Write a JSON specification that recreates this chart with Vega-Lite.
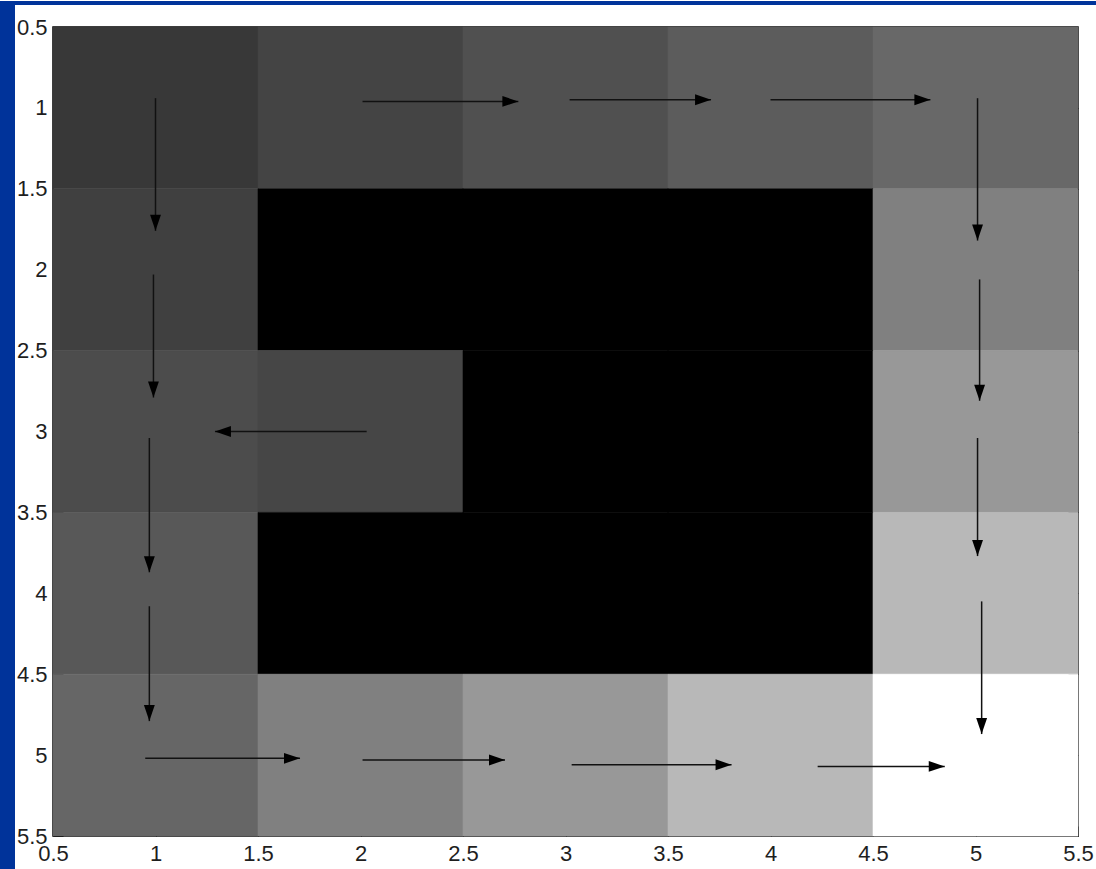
{
  "$schema": "https://vega.github.io/schema/vega-lite/v6.json",
  "background": "#ffffff",
  "padding": 0,
  "bounds": "flush",
  "spacing": 0,
  "config": {"concat": {"spacing": 0}},
  "datasets": {
    "cells": [
      {"xa": 0.5, "xb": 1.5, "ya": 0.5, "yb": 1.5, "v": 56},
      {"xa": 1.5, "xb": 2.5, "ya": 0.5, "yb": 1.5, "v": 68},
      {"xa": 2.5, "xb": 3.5, "ya": 0.5, "yb": 1.5, "v": 80},
      {"xa": 3.5, "xb": 4.5, "ya": 0.5, "yb": 1.5, "v": 92},
      {"xa": 4.5, "xb": 5.5, "ya": 0.5, "yb": 1.5, "v": 104},
      {"xa": 0.5, "xb": 1.5, "ya": 1.5, "yb": 2.5, "v": 64},
      {"xa": 1.5, "xb": 2.5, "ya": 1.5, "yb": 2.5, "v": 0},
      {"xa": 2.5, "xb": 3.5, "ya": 1.5, "yb": 2.5, "v": 0},
      {"xa": 3.5, "xb": 4.5, "ya": 1.5, "yb": 2.5, "v": 0},
      {"xa": 4.5, "xb": 5.5, "ya": 1.5, "yb": 2.5, "v": 128},
      {"xa": 0.5, "xb": 1.5, "ya": 2.5, "yb": 3.5, "v": 76},
      {"xa": 1.5, "xb": 2.5, "ya": 2.5, "yb": 3.5, "v": 70},
      {"xa": 2.5, "xb": 3.5, "ya": 2.5, "yb": 3.5, "v": 0},
      {"xa": 3.5, "xb": 4.5, "ya": 2.5, "yb": 3.5, "v": 0},
      {"xa": 4.5, "xb": 5.5, "ya": 2.5, "yb": 3.5, "v": 152},
      {"xa": 0.5, "xb": 1.5, "ya": 3.5, "yb": 4.5, "v": 88},
      {"xa": 1.5, "xb": 2.5, "ya": 3.5, "yb": 4.5, "v": 0},
      {"xa": 2.5, "xb": 3.5, "ya": 3.5, "yb": 4.5, "v": 0},
      {"xa": 3.5, "xb": 4.5, "ya": 3.5, "yb": 4.5, "v": 0},
      {"xa": 4.5, "xb": 5.5, "ya": 3.5, "yb": 4.5, "v": 184},
      {"xa": 0.5, "xb": 1.5, "ya": 4.5, "yb": 5.5, "v": 102},
      {"xa": 1.5, "xb": 2.5, "ya": 4.5, "yb": 5.5, "v": 128},
      {"xa": 2.5, "xb": 3.5, "ya": 4.5, "yb": 5.5, "v": 152},
      {"xa": 3.5, "xb": 4.5, "ya": 4.5, "yb": 5.5, "v": 184},
      {"xa": 4.5, "xb": 5.5, "ya": 4.5, "yb": 5.5, "v": 255}
    ],
    "arrows": [
      {"x": 1.0, "y": 0.94, "tx": 1.0, "ty": 1.76, "dir": "down"},
      {"x": 2.01, "y": 0.96, "tx": 2.77, "ty": 0.96, "dir": "right"},
      {"x": 3.02, "y": 0.95, "tx": 3.71, "ty": 0.95, "dir": "right"},
      {"x": 4.0, "y": 0.95, "tx": 4.78, "ty": 0.95, "dir": "right"},
      {"x": 5.01, "y": 0.94, "tx": 5.01, "ty": 1.82, "dir": "down"},
      {"x": 0.99, "y": 2.03, "tx": 0.99, "ty": 2.79, "dir": "down"},
      {"x": 5.02, "y": 2.06, "tx": 5.02, "ty": 2.81, "dir": "down"},
      {"x": 0.97, "y": 3.04, "tx": 0.97, "ty": 3.87, "dir": "down"},
      {"x": 2.03, "y": 3.0, "tx": 1.29, "ty": 3.0, "dir": "left"},
      {"x": 5.01, "y": 3.04, "tx": 5.01, "ty": 3.77, "dir": "down"},
      {"x": 0.97, "y": 4.08, "tx": 0.97, "ty": 4.79, "dir": "down"},
      {"x": 5.03, "y": 4.05, "tx": 5.03, "ty": 4.87, "dir": "down"},
      {"x": 0.95, "y": 5.02, "tx": 1.705, "ty": 5.02, "dir": "right"},
      {"x": 2.01, "y": 5.03, "tx": 2.705, "ty": 5.03, "dir": "right"},
      {"x": 3.03, "y": 5.06, "tx": 3.81, "ty": 5.06, "dir": "right"},
      {"x": 4.23, "y": 5.07, "tx": 4.85, "ty": 5.07, "dir": "right"}
    ],
    "blank": [{"k": 1}]
  },
  "vconcat": [
    {
      "width": 1096,
      "height": 4,
      "view": {"fill": "#00339a", "stroke": null},
      "data": {"name": "blank"},
      "mark": {"type": "point", "opacity": 0}
    },
    {
      "bounds": "flush",
      "spacing": 38,
      "hconcat": [
        {
          "width": 15,
          "height": 865,
          "view": {"fill": "#00339a", "stroke": null},
          "data": {"name": "blank"},
          "mark": {"type": "point", "opacity": 0}
        },
        {
          "bounds": "flush",
          "spacing": 21,
          "vconcat": [
            {
              "width": 1025,
              "height": 1,
              "view": {"stroke": null},
              "data": {"name": "blank"},
              "mark": {"type": "point", "opacity": 0}
            },
            {
              "width": 1025,
              "height": 809,
              "view": {"stroke": "#000000", "strokeWidth": 1.5},
              "resolve": {"axis": {"x": "independent", "y": "independent"}, "scale": {"color": "shared", "stroke": "independent"}},
              "layer": [
                {
                  "data": {"name": "cells"},
                  "mark": {"type": "rect", "strokeWidth": 0.6},
                  "encoding": {
                    "x": {"field": "xa", "type": "quantitative",
                      "scale": {"domain": [0.5, 5.5], "nice": false, "zero": false},
                      "axis": {"orient": "bottom", "values": [0.5, 1, 1.5, 2, 2.5, 3, 3.5, 4, 4.5, 5, 5.5], "format": "~g", "title": null, "domain": false, "grid": false, "tickSize": -10, "tickColor": "#000000", "tickWidth": 1, "labelPadding": 17, "labelFlush": false, "labelOverlap": false, "labelFont": "Liberation Sans", "labelFontSize": 22, "labelColor": "#1e1e1e"}},
                    "x2": {"field": "xb"},
                    "y": {"field": "ya", "type": "quantitative",
                      "scale": {"domain": [0.5, 5.5], "nice": false, "zero": false, "reverse": true},
                      "axis": {"orient": "left", "values": [0.5, 1, 1.5, 2, 2.5, 3, 3.5, 4, 4.5, 5, 5.5], "format": "~g", "title": null, "domain": false, "grid": false, "tickSize": -10, "tickColor": "#000000", "tickWidth": 1, "labelPadding": 16, "labelFlush": false, "labelOverlap": false, "labelFont": "Liberation Sans", "labelFontSize": 22, "labelColor": "#1e1e1e"}},
                    "y2": {"field": "yb"},
                    "color": {"field": "v", "type": "quantitative", "legend": null,
                      "scale": {"domain": [0, 255], "range": ["#000000", "#ffffff"], "interpolate": "rgb"}},
                    "stroke": {"field": "v", "type": "quantitative", "legend": null,
                      "scale": {"domain": [0, 255], "range": ["#000000", "#ffffff"], "interpolate": "rgb"}}
                  }
                },
                {
                  "data": {"name": "arrows"},
                  "mark": {"type": "rule", "color": "#111111", "strokeWidth": 1.5},
                  "encoding": {
                    "x": {"field": "x", "type": "quantitative",
                      "axis": {"orient": "top", "values": [1, 1.5, 2, 2.5, 3, 3.5, 4, 4.5, 5], "labels": false, "title": null, "domain": false, "grid": false, "tickSize": -10, "tickColor": "#000000", "tickWidth": 1}},
                    "x2": {"field": "tx"},
                    "y": {"field": "y", "type": "quantitative",
                      "axis": {"orient": "right", "values": [1, 1.5, 2, 2.5, 3, 3.5, 4, 4.5, 5], "labels": false, "title": null, "domain": false, "grid": false, "tickSize": -10, "tickColor": "#000000", "tickWidth": 1}},
                    "y2": {"field": "ty"}
                  }
                },
                {
                  "data": {"name": "arrows"},
                  "transform": [{"filter": "datum.dir === 'right'"}],
                  "mark": {"type": "point", "shape": "M0,0L-1,-0.34L-1,0.34Z", "filled": true, "color": "#000000", "opacity": 1, "size": 1024, "strokeWidth": 0},
                  "encoding": {
                    "x": {"field": "tx", "type": "quantitative", "axis": null},
                    "y": {"field": "ty", "type": "quantitative", "axis": null}
                  }
                },
                {
                  "data": {"name": "arrows"},
                  "transform": [{"filter": "datum.dir === 'down'"}],
                  "mark": {"type": "point", "shape": "M0,0L-0.34,-1L0.34,-1Z", "filled": true, "color": "#000000", "opacity": 1, "size": 1024, "strokeWidth": 0},
                  "encoding": {
                    "x": {"field": "tx", "type": "quantitative", "axis": null},
                    "y": {"field": "ty", "type": "quantitative", "axis": null}
                  }
                },
                {
                  "data": {"name": "arrows"},
                  "transform": [{"filter": "datum.dir === 'left'"}],
                  "mark": {"type": "point", "shape": "M0,0L1,-0.34L1,0.34Z", "filled": true, "color": "#000000", "opacity": 1, "size": 1024, "strokeWidth": 0},
                  "encoding": {
                    "x": {"field": "tx", "type": "quantitative", "axis": null},
                    "y": {"field": "ty", "type": "quantitative", "axis": null}
                  }
                }
              ]
            }
          ]
        }
      ]
    }
  ]
}
